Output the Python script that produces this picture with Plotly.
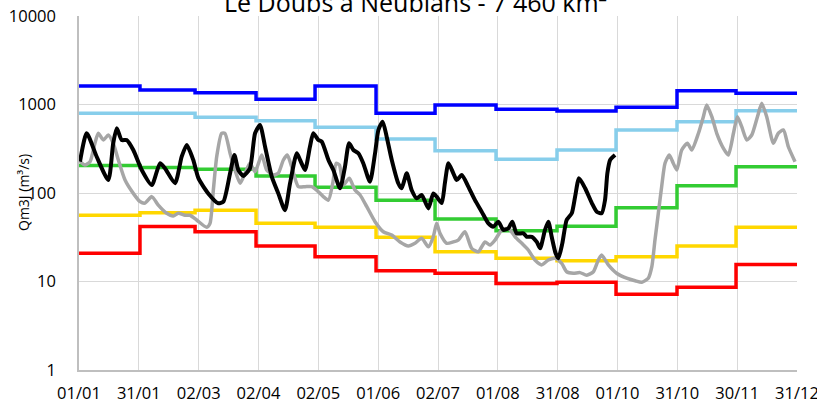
import plotly.graph_objects as go

# Monthly reference values (step lines), Jan..Dec
month_start_days = [0, 31, 59, 90, 120, 151, 181, 212, 243, 273, 304, 334]
year_end_day = 365
blue_vals = [1620, 1460, 1360, 1145, 1620, 795, 987, 883, 845, 930, 1433, 1337]
lightblue_vals = [795, 795, 720, 656, 552, 408, 300, 240, 306, 515, 640, 851]
green_vals = [204, 194, 185, 156, 116, 83, 51, 37.5, 42, 68, 121, 198]
yellow_vals = [56, 60, 64, 45.4, 41, 31.6, 21.7, 18.3, 17.2, 19, 25.2, 41]
red_vals = [20.8, 41.7, 36.5, 25.2, 19, 13.2, 12.4, 9.5, 9.8, 7.2, 8.6, 15.6]

# Current year daily flow (black), day-of-year and Qm3J
black_days = [0.5, 3.9, 9, 14.9, 17.4, 19.2, 21.7, 24.2, 27.6, 31.9, 37, 41.2, 43.7, 48.8, 52.2,
              54.8, 58.1, 60.7, 65.7, 70.8, 73.4, 76.8, 79, 81, 83.5, 86.9, 89.5, 92, 94.6, 98,
              101.3, 104.7, 107.3, 110.7, 112.4, 114.9, 117.4, 119.1, 121.7, 123.4, 126.8, 129.3,
              132.7, 135.2, 137.3, 139.5, 142, 144.5, 147.9, 150.5, 152.2, 154.4, 156.4, 159,
              162.3, 164, 166.6, 169.1, 171.7, 174.2, 177.6, 180.1, 181.8, 184.4, 186, 187.8,
              190.3, 192, 194.6, 197.9, 201.3, 204.7, 208.1, 210.7, 213.2, 215.7, 218.3, 220.3,
              222.5, 225.9, 227.6, 230.2, 232.7, 234.4, 236.9, 238.6, 240.3, 242.3, 243.7, 245.7,
              247.9, 250.5, 252.2, 254.2, 257.3, 260.7, 263.2, 265.7, 267.4, 268.6, 270, 272.5]
black_vals = [226, 473, 257, 140, 365, 538, 397, 397, 306, 182, 123, 217, 190, 129, 257,
              349, 236, 147, 99, 76.5, 80, 167, 269, 182, 156, 190, 473, 587, 333, 153,
              99, 64, 129, 281, 236, 182, 333, 473, 397, 380, 236, 182,
              113, 198, 365, 306, 281, 217, 134, 281, 515, 640, 433, 236,
              129, 113, 167, 108, 87, 95, 67, 99, 91, 77, 129, 217,
              167, 140, 160, 118, 83, 61.5, 45.4, 41.7, 47.4, 38.2, 40, 47.4,
              35, 35, 32, 32, 28, 23.7, 38.2, 47.4, 32, 20.8, 18.3, 27,
              49.5, 59, 91, 147, 113, 77, 61.5, 59, 83, 167, 236, 269]

# Previous year daily flow (grey)
grey_days = [0.5, 3, 5.6, 8.1, 9.8, 12.4, 14.9, 17.4, 20, 23.4, 27.6, 31, 33.6, 37, 40.3, 44.6,
             47.9, 50.5, 53.9, 56.4, 59.8, 64.9, 66.6, 68.3, 70, 72.5, 74.2, 76.8, 79.3, 81.9,
             84.4, 86.9, 89.5, 92.9, 95.4, 98.8, 101.3, 103.9, 105.9, 108.1, 111.5, 114.9,
             118.3, 120.8, 124.2, 126.8, 129, 130.7, 132.4, 134.4, 137.4, 140.3, 142.9, 146.3,
             150.5, 154.7, 159, 163.2, 167.4, 170.8, 174.2, 177.6, 180.1, 181.8, 183.5, 186.9,
             190.3, 192.8, 196.2, 199.6, 203, 206.4, 208.9, 211.5, 214.9, 218.3, 221.7, 225.1,
             228.4, 231.8, 235.2, 238.6, 242, 245.4, 247.9, 251.3, 254.7, 258.1, 261.5, 264,
             265.7, 269.1, 273.3, 278.4, 282.7, 286.1, 289.4, 291.2, 292.8, 294.5, 296.2, 297.9,
             300.1, 302.1, 303.9, 306.4, 309.3, 311.5, 314.9, 317.4, 319.1, 321.7, 324.2, 327.6,
             330.1, 332.7, 334.7, 336.9, 339.5, 342, 344.9, 347.1, 349.6, 353, 355.5, 358.1,
             360.6, 364]
grey_vals = [226, 207, 226, 365, 473, 397, 452, 365, 236, 140, 99, 80, 77, 91, 73, 59,
             55, 59, 56, 56, 49.5, 41, 45.4, 108, 257, 473, 473, 281, 182, 129,
             167, 217, 174, 269, 182, 160, 167, 236, 269, 198, 118, 118,
             118, 108, 91, 83, 129, 217, 207, 123, 147, 108, 95, 70,
             47.4, 36.5, 33.5, 28, 25.2, 27, 30.8, 24.7, 32, 45.4, 35, 27,
             28, 29.4, 36.5, 23.7, 21.7, 28, 25.8, 29.4, 38.2, 40, 32, 27,
             22.7, 17.5, 15.4, 17.5, 18.3, 16, 12.9, 12.4, 12.6, 11.8, 12.9, 17.5,
             19.9, 15.4, 12.4, 10.9, 10.2, 9.8, 10.9, 14.7, 29.4, 59, 118, 217,
             269, 217, 182, 306, 365, 306, 473, 728, 987, 728, 473, 320,
             269, 473, 728, 562, 397, 452, 728, 1030, 728, 365, 473, 515,
             333, 226]

tick_labels = ["01/01", "31/01", "02/03", "02/04", "02/05", "01/06", "02/07",
               "01/08", "31/08", "01/10", "31/10", "30/11", "31/12"]
y_tick_vals = [1, 10, 100, 1000, 10000]
title_text = "Le Doubs à Neublans - 7 460 km²"
y_title = "Qm3J (m³/s)"

FONT = "Open Sans"

fig = go.Figure()

step_x = month_start_days + [year_end_day]
for vals, color in [(red_vals, "#FF0000"), (yellow_vals, "#FFD700"), (green_vals, "#33CC33"),
                    (lightblue_vals, "#87CEEB"), (blue_vals, "#0000FF")]:
    fig.add_trace(go.Scatter(x=step_x, y=vals + [vals[-1]], mode="lines",
                             line=dict(color=color, width=3.5, shape="hv"),
                             showlegend=False, hoverinfo="skip"))

fig.add_trace(go.Scatter(x=grey_days, y=grey_vals, mode="lines",
                         line=dict(color="#A6A6A6", width=3.5, shape="spline", smoothing=0.6),
                         showlegend=False))
fig.add_trace(go.Scatter(x=black_days, y=black_vals, mode="lines",
                         line=dict(color="#000000", width=4, shape="spline", smoothing=0.6),
                         showlegend=False))

n = len(tick_labels) - 1
fig.update_xaxes(range=[0, 365], tickmode="array", automargin=False,
                 tickvals=[k * 365 / n for k in range(n + 1)], ticktext=tick_labels,
                 showgrid=True, gridcolor="#D9D9D9", gridwidth=1,
                 showline=True, linecolor="#BFBFBF", linewidth=1.5,
                 ticks="", ticklabelstandoff=7, ticklabeloverflow="allow", zeroline=False,
                 tickfont=dict(family=FONT, size=16.5, color="#000000"))
fig.update_yaxes(type="log", range=[0, 4], tickmode="array", automargin=False,
                 tickvals=y_tick_vals, ticktext=[str(v) for v in y_tick_vals],
                 showgrid=True, gridcolor="#D9D9D9", gridwidth=1,
                 showline=True, linecolor="#BFBFBF", linewidth=1.5,
                 ticks="", ticklabelstandoff=18, ticklabeloverflow="allow", zeroline=False,
                 tickfont=dict(family=FONT, size=16.5, color="#000000"))

fig.add_annotation(text=y_title, xref="paper", yref="paper", x=-(79 - 23) / 718, y=0.5,
                   xanchor="center", yanchor="middle", textangle=-90, showarrow=False,
                   font=dict(family=FONT, size=14, color="#000000"))

fig.add_annotation(text=title_text, xref="paper", yref="paper", x=(415 - 79) / 718,
                   y=1 + (16 - 21) / 354, xanchor="center", yanchor="bottom", showarrow=False,
                   font=dict(family=FONT, size=25, color="#000000"))

fig.update_layout(width=817, height=403, margin=dict(l=79, r=20, t=16, b=33, autoexpand=False),
                  plot_bgcolor="white", paper_bgcolor="white", showlegend=False)

fig.write_html("out.html", config={"displayModeBar": False},
               post_script="document.body.style.margin='0';")
